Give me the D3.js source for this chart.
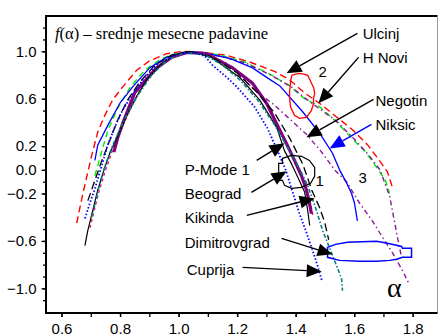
<!DOCTYPE html>
<html><head><meta charset="utf-8">
<script src="https://cdn.jsdelivr.net/npm/d3@7"></script>
<style>
html,body{margin:0;padding:0;background:#fff;}
svg{display:block;}
</style></head>
<body>
<svg id="chart" width="439" height="336"></svg>
<script>
// ---- data (alpha, f(alpha)) ----
const xMajorTicks = [0.6, 0.8, 1.0, 1.2, 1.4, 1.6, 1.8];
const xMinorTicks = [0.6,0.7,0.8,0.9,1.0,1.1,1.2,1.3,1.4,1.5,1.6,1.7,1.8];
const yMajorTicks = [1.0, 0.6, 0.2, 0.0, -0.2, -0.6, -1.0];
const yMinorTicks = [1.2,1.1,1.0,0.9,0.8,0.7,0.6,0.5,0.4,0.3,0.2,0.1,0.0,-0.1,-0.2,-0.3,-0.4,-0.5,-0.6,-0.7,-0.8,-0.9,-1.0,-1.1];

const ulcinj = [[0.652,-0.45],[0.662,-0.33],[0.673,-0.20],[0.688,-0.04],[0.703,0.12],[0.724,0.32],[0.748,0.46],[0.775,0.59],[0.809,0.70],[0.857,0.84],[0.901,0.92],[0.959,0.98],[1.014,1.0],[1.083,0.99],[1.158,0.97],[1.243,0.91],[1.328,0.83],[1.379,0.76],[1.430,0.65],[1.488,0.55],[1.543,0.44],[1.598,0.33],[1.646,0.21],[1.686,0.08],[1.714,-0.02],[1.731,-0.15]];
const hNovi = [[0.714,-0.05],[0.731,0.10],[0.758,0.33],[0.792,0.52],[0.833,0.69],[0.884,0.84],[0.942,0.94],[1.004,0.99],[1.072,0.99],[1.140,0.97],[1.225,0.91],[1.310,0.81],[1.379,0.71],[1.430,0.60],[1.478,0.54],[1.533,0.42],[1.591,0.27],[1.639,0.15],[1.680,0.01],[1.707,-0.09],[1.721,-0.20]];
const niksic = [[0.714,0.08],[0.724,0.21],[0.755,0.36],[0.799,0.56],[0.843,0.70],[0.901,0.86],[0.959,0.95],[1.028,0.99],[1.083,0.99],[1.175,0.94],[1.253,0.86],[1.301,0.78],[1.345,0.71],[1.424,0.49],[1.482,0.31],[1.526,0.14],[1.550,0.00],[1.574,-0.11],[1.591,-0.20],[1.601,-0.28],[1.611,-0.43]];
const negotin = [[1.010,0.99],[1.072,0.99],[1.158,0.91],[1.219,0.77],[1.270,0.65],[1.321,0.56],[1.379,0.43],[1.437,0.30],[1.492,0.14],[1.533,0.00],[1.574,-0.10],[1.618,-0.28],[1.662,-0.43],[1.697,-0.57],[1.731,-0.70],[1.765,-0.85],[1.789,-0.97]];
const outer3 = [[1.040,0.99],[1.140,0.96],[1.230,0.90],[1.315,0.80],[1.385,0.70],[1.440,0.59],[1.540,0.41],[1.600,0.26],[1.648,0.13],[1.688,0.00],[1.721,-0.22],[1.738,-0.44],[1.748,-0.57],[1.762,-0.74]];
const kikinda = [[0.779,0.15],[0.792,0.27],[0.809,0.39],[0.826,0.50],[0.850,0.65],[0.867,0.70],[0.925,0.86],[0.977,0.95],[1.028,0.99],[1.096,0.98],[1.140,0.92],[1.185,0.86],[1.253,0.73],[1.301,0.56],[1.335,0.39],[1.369,0.22],[1.396,0.08],[1.420,-0.05],[1.437,-0.17],[1.447,-0.28],[1.454,-0.37]];
const magentaCurve = [[0.697,-0.49],[0.710,-0.36],[0.727,-0.19],[0.748,-0.02],[0.772,0.15],[0.799,0.32],[0.833,0.50],[0.867,0.67],[0.918,0.84],[0.977,0.95],[1.038,0.99],[1.100,0.97],[1.150,0.91],[1.195,0.84],[1.260,0.71],[1.305,0.55],[1.340,0.37],[1.372,0.20],[1.400,0.05],[1.424,-0.08],[1.441,-0.20],[1.452,-0.30],[1.460,-0.40]];
const cuprija = [[0.680,-0.41],[0.697,-0.28],[0.714,-0.16],[0.738,0.04],[0.758,0.21],[0.782,0.36],[0.806,0.49],[0.840,0.63],[0.884,0.78],[0.935,0.91],[0.997,0.98],[1.055,0.99],[1.090,0.96],[1.117,0.88],[1.165,0.78],[1.199,0.70],[1.260,0.53],[1.304,0.35],[1.338,0.16],[1.366,0.00],[1.390,-0.19],[1.413,-0.37],[1.437,-0.53],[1.458,-0.68],[1.475,-0.81],[1.489,-0.93]];
const pMode1 = [[0.680,-0.64],[0.690,-0.51],[0.707,-0.34],[0.724,-0.17],[0.745,0.00],[0.765,0.14],[0.789,0.27],[0.816,0.42],[0.850,0.59],[0.891,0.76],[0.935,0.88],[0.987,0.97],[1.038,1.0],[1.106,0.96],[1.158,0.87],[1.209,0.78],[1.277,0.59],[1.335,0.36],[1.362,0.16],[1.386,0.05],[1.407,-0.06],[1.431,-0.19],[1.441,-0.34],[1.448,-0.47]];
const beograd = [[0.690,-0.26],[0.714,-0.09],[0.738,0.08],[0.765,0.25],[0.792,0.42],[0.826,0.59],[0.867,0.74],[0.918,0.88],[0.977,0.97],[1.038,1.0],[1.123,0.94],[1.199,0.82],[1.270,0.65],[1.328,0.48],[1.379,0.27],[1.424,0.05],[1.455,-0.17],[1.482,-0.32],[1.499,-0.44],[1.513,-0.59]];
const dimitrovgrad = [[0.703,-0.40],[0.717,-0.26],[0.731,-0.11],[0.751,0.05],[0.782,0.25],[0.816,0.43],[0.861,0.63],[0.908,0.80],[0.963,0.93],[1.021,0.99],[1.090,0.97],[1.147,0.89],[1.209,0.76],[1.270,0.59],[1.328,0.38],[1.379,0.16],[1.413,0.01],[1.441,-0.13],[1.468,-0.32],[1.492,-0.51],[1.516,-0.66],[1.540,-0.81],[1.557,-0.92],[1.560,-1.02]];

// closed outlines marking regions 1, 2 and the Dimitrovgrad spread
const region2 = [[1.387,0.797],[1.400,0.808],[1.413,0.814],[1.428,0.808],[1.441,0.797],[1.448,0.765],[1.454,0.730],[1.462,0.690],[1.465,0.646],[1.461,0.600],[1.461,0.561],[1.454,0.502],[1.437,0.443],[1.413,0.435],[1.396,0.460],[1.383,0.527],[1.380,0.590],[1.379,0.646],[1.381,0.700],[1.383,0.755]];
const region1 = [[1.355,0.097],[1.386,0.122],[1.420,0.114],[1.447,0.080],[1.465,0.021],[1.465,-0.055],[1.451,-0.114],[1.420,-0.148],[1.386,-0.156],[1.362,-0.131],[1.355,-0.089],[1.342,-0.089],[1.342,0.055],[1.355,0.055]];
const spread = [[1.509,-0.654],[1.536,-0.629],[1.577,-0.612],[1.676,-0.603],[1.714,-0.620],[1.762,-0.646],[1.765,-0.662],[1.796,-0.662],[1.796,-0.738],[1.765,-0.738],[1.745,-0.755],[1.721,-0.764],[1.676,-0.772],[1.618,-0.772],[1.550,-0.764],[1.509,-0.738]];

// annotation labels: text, anchor (alpha, f)
const labelNames = ["Ulcinj","H Novi","Negotin","Niksic","P-Mode 1","Beograd","Kikinda","Dimitrovgrad","Cuprija"];
const labelAnchors = [[1.629,1.152],[1.629,0.949],[1.673,0.586],[1.673,0.384],[1.021,0.004],[1.021,-0.198],[1.021,-0.401],[1.021,-0.612],[1.028,-0.840]];
const arrowFrom = [[1.611,1.152],[1.615,0.949],[1.666,0.595],[1.659,0.384],[1.267,0.080],[1.249,-0.190],[1.233,-0.384],[1.352,-0.578],[1.219,-0.823]];
const arrowTo = [[1.369,0.814],[1.478,0.561],[1.437,0.274],[1.516,0.181],[1.362,0.224],[1.369,-0.013],[1.465,-0.241],[1.526,-0.713],[1.489,-0.857]];
const regionNumbers = ["1","2","3"];
const regionNumberAnchors = [[1.482,-0.089],[1.492,0.831],[1.629,-0.063]];

// ---- drawing ----
const svg = d3.select("#chart");
const x = d3.scaleLinear().domain([0.547, 1.883]).range([46, 437]);
const y = d3.scaleLinear().domain([-1.208, 1.298]).range([313, 16]);
const sans = "Liberation Sans, Arial, Helvetica, sans-serif";
const serif = "Liberation Serif, Times New Roman, serif";

// frame
svg.append("line").attr("x1",46).attr("x2",437.5).attr("y1",16).attr("y2",16).attr("stroke","#000").attr("stroke-width",2);
svg.append("line").attr("x1",437.5).attr("x2",437.5).attr("y1",16).attr("y2",313).attr("stroke","#999").attr("stroke-width",1);

// axes
function styleAxis(g){ g.select(".domain").remove(); g.selectAll("line").attr("stroke","#000").attr("stroke-width",1.3); g.selectAll("text").attr("font-family",sans).attr("font-size","15px").attr("fill","#000"); }
svg.append("g").attr("transform","translate(0,313)").call(d3.axisBottom(x).tickValues(xMinorTicks).tickSize(4).tickFormat("")).call(styleAxis);
svg.append("g").attr("transform","translate(0,313)").call(d3.axisBottom(x).tickValues(xMajorTicks).tickSize(4).tickPadding(6).tickFormat(d3.format(".1f"))).call(styleAxis);
svg.append("g").attr("transform","translate(46,0)").call(d3.axisLeft(y).tickValues(yMinorTicks).tickSize(3).tickFormat("")).call(styleAxis);
svg.append("g").attr("transform","translate(46,0)").call(d3.axisLeft(y).tickValues(yMajorTicks).tickSize(4.5).tickPadding(5).tickFormat(d3.format(".1f"))).call(styleAxis);
svg.append("line").attr("x1",46).attr("x2",46).attr("y1",15).attr("y2",313.5).attr("stroke","#000").attr("stroke-width",2);
svg.append("line").attr("x1",45).attr("x2",437.5).attr("y1",313).attr("y2",313).attr("stroke","#000").attr("stroke-width",2);

// curves
const line = d3.line().x(d=>x(d[0])).y(d=>y(d[1]));
const curves = [
  {d: ulcinj, c:"#ff0000", w:1.4, dash:"7,4"},
  {d: hNovi, c:"#00ee00", w:1.4, dash:"6,4"},
  {d: outer3, c:"#8a1a9a", w:1.4, dash:"5,3,1.5,3"},
  {d: negotin, c:"#8a1a9a", w:1.4, dash:"5,3,1.5,3"},
  {d: niksic, c:"#0000ff", w:1.3, dash:null},
  {d: magentaCurve, c:"#e0208a", w:1.5, dash:"3,3"},
  {d: kikinda, c:"#800080", w:3.2, dash:null},
  {d: beograd, c:"#000000", w:1.3, dash:"8,4"},
  {d: pMode1, c:"#000000", w:1.2, dash:null},
  {d: dimitrovgrad, c:"#008080", w:1.6, dash:"4,2,1.5,2"},
  {d: cuprija, c:"#0000ff", w:1.8, dash:"1.5,2"}
];
curves.forEach(s=>{
  const p = svg.append("path").attr("d", line(s.d)).attr("fill","none").attr("stroke",s.c).attr("stroke-width",s.w).attr("stroke-linejoin","round");
  if (s.dash) p.attr("stroke-dasharray", s.dash);
});

// region outlines
const closed = d3.line().x(d=>x(d[0])).y(d=>y(d[1])).curve(d3.curveLinearClosed);
svg.append("path").attr("d",closed(region2)).attr("fill","none").attr("stroke","#ff0000").attr("stroke-width",1.3);
svg.append("path").attr("d",closed(region1)).attr("fill","none").attr("stroke","#000").attr("stroke-width",1.2);
svg.append("path").attr("d",closed(spread)).attr("fill","none").attr("stroke","#0000ff").attr("stroke-width",1.5);

// title
const t = svg.append("text").attr("x",55).attr("y",39).attr("font-family",serif).attr("font-size","16.5px").attr("fill","#000");
t.append("tspan").attr("font-style","italic").text("f");
t.append("tspan").text("(α) – srednje mesecne padavine");

// labels
labelNames.forEach((n,i)=>{
  svg.append("text").attr("x",x(labelAnchors[i][0])).attr("y",y(labelAnchors[i][1])).attr("dy","0.35em")
    .attr("font-family",sans).attr("font-size","15px").attr("fill","#000").text(n);
});
// arrows
labelNames.forEach((n,i)=>{
  const col = n==="Niksic" ? "#0000ff" : "#000";
  const x1 = x(arrowFrom[i][0]), y1 = y(arrowFrom[i][1]), x2 = x(arrowTo[i][0]), y2 = y(arrowTo[i][1]);
  const ang = Math.atan2(y2-y1, x2-x1), L = 15, W = 6.5;
  const bx = x2 - L*Math.cos(ang), by = y2 - L*Math.sin(ang);
  svg.append("line").attr("x1",x1).attr("y1",y1).attr("x2",bx).attr("y2",by).attr("stroke",col).attr("stroke-width",1.4);
  const pts = [[x2,y2],[bx - W*Math.sin(ang), by + W*Math.cos(ang)],[bx + W*Math.sin(ang), by - W*Math.cos(ang)]];
  svg.append("polygon").attr("points", pts.map(p=>p.join(",")).join(" ")).attr("fill",col);
});
// region numbers
regionNumbers.forEach((n,i)=>{
  svg.append("text").attr("x",x(regionNumberAnchors[i][0])).attr("y",y(regionNumberAnchors[i][1])).attr("dy","0.35em")
    .attr("text-anchor","middle").attr("font-family",sans).attr("font-size","15px").attr("fill","#000").text(n);
});
// alpha axis label
svg.append("text").attr("x",x(1.737)).attr("y",y(-1.0)).attr("dy","0.3em").attr("text-anchor","middle")
  .attr("font-family",serif).attr("font-size","28px").attr("fill","#000").text("α");
</script>
</body></html>
